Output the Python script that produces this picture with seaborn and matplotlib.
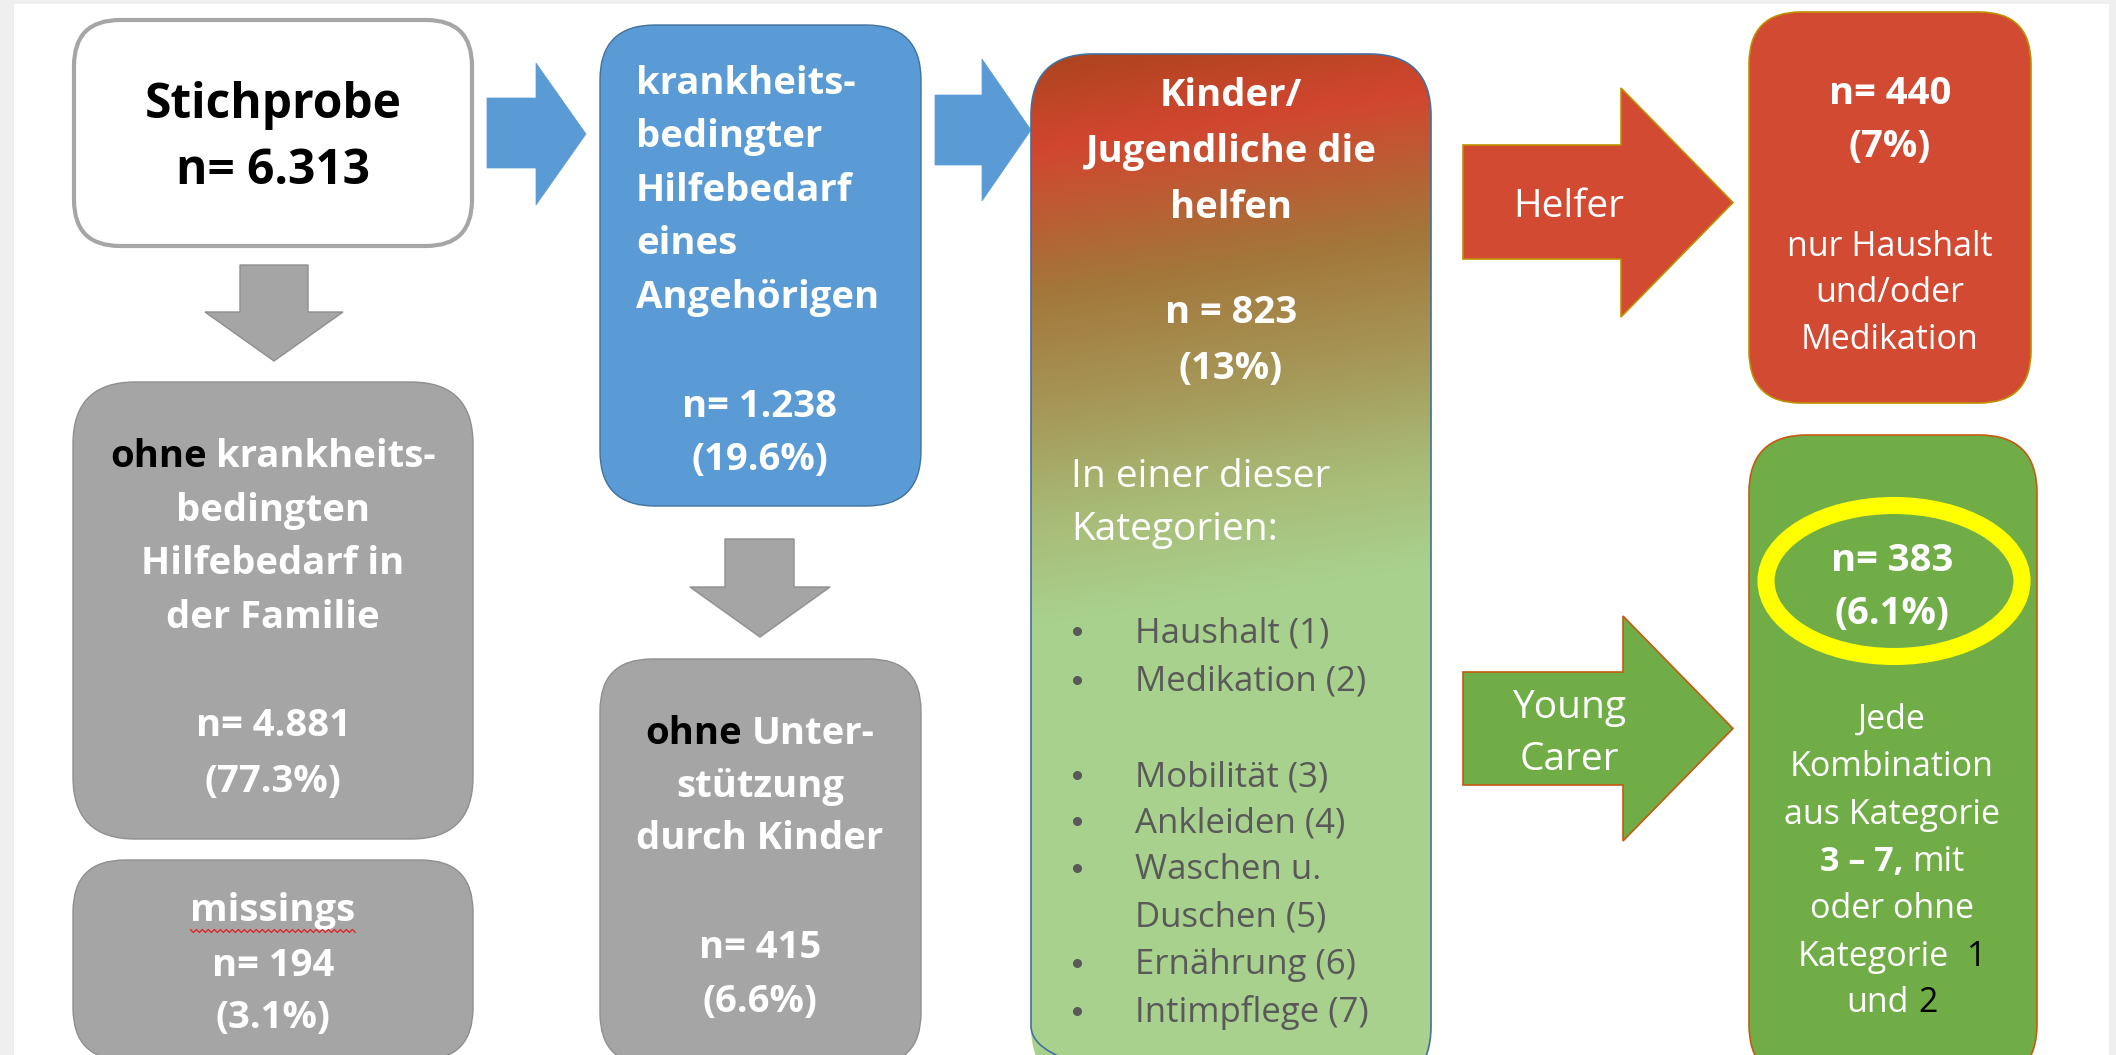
import numpy as np
import matplotlib
matplotlib.use("Agg")
import matplotlib.pyplot as plt
import matplotlib.colors as mcolors
from matplotlib.patches import FancyBboxPatch, Polygon, Ellipse, Rectangle
from matplotlib import font_manager
import seaborn as sns

# ---------------- data (texts / values of the flow chart) ----------------
sample_title = "Stichprobe"
sample_n = "n= 6.313"

no_need_head = ["ohne", "krankheits-"]
no_need_lines = ["bedingten", "Hilfebedarf in", "der Familie"]
no_need_n = "n= 4.881"
no_need_pct = "(77.3%)"

missing_label = "missings"
missing_n = "n= 194"
missing_pct = "(3.1%)"

need_lines = ["krankheits-", "bedingter", "Hilfebedarf", "eines", "Angehörigen"]
need_n = "n= 1.238"
need_pct = "(19.6%)"

nosupport_head = ["ohne", "Unter-"]
nosupport_lines = ["stützung", "durch Kinder"]
nosupport_n = "n= 415"
nosupport_pct = "(6.6%)"

helping_title = ["Kinder/", "Jugendliche die", "helfen"]
helping_n = "n = 823"
helping_pct = "(13%)"
helping_intro = ["In einer dieser", "Kategorien:"]
categories = ["Haushalt (1)", "Medikation (2)", "Mobilität (3)", "Ankleiden (4)",
              "Waschen u.", "Duschen (5)", "Ernährung (6)", "Intimpflege (7)"]
category_has_bullet = [True, True, True, True, True, False, True, True]

helper_arrow_label = ["Helfer"]
carer_arrow_label = ["Young", "Carer"]

helper_n = "n= 440"
helper_pct = "(7%)"
helper_desc = ["nur Haushalt", "und/oder", "Medikation"]

carer_n = "n= 383"
carer_pct = "(6.1%)"
carer_desc = ["Jede", "Kombination", "aus Kategorie"]
carer_range = ["3 – 7,", "mit"]
carer_desc2 = ["oder ohne"]
carer_cat1 = ["Kategorie", "1"]
carer_cat2 = ["und", "2"]

# ---------------- style ----------------
sns.set_theme(style="white")
avail = {f.name for f in font_manager.fontManager.ttflist}
FONT = "DejaVu Sans"
for cand in ["Open Sans", "Lato", "Noto Sans", "Liberation Sans"]:
    if cand in avail:
        FONT = cand
        break
plt.rcParams["font.family"] = [FONT, "DejaVu Sans"]

WHITE = "#ffffff"
BLACK = "#000000"
GRAY_FILL = "#a5a5a5"
GRAY_EDGE = "#8f8f8f"
BLUE_FILL = "#5b9bd5"
BLUE_EDGE = "#41719c"
RED_FILL = "#d24a31"
RED_EDGE = "#bf9000"
GREEN_FILL = "#70ad47"
GREEN_EDGE = "#c55a11"
BULLET_TXT = "#595959"
DY = 4  # baseline correction for text placement

W_PX, H_PX = 2116, 1055
fig = plt.figure(figsize=(W_PX / 100, H_PX / 100), dpi=100, facecolor="#efefef")
ax = fig.add_axes([0, 0, 1, 1])
ax.set_xlim(0, W_PX)
ax.set_ylim(H_PX, 0)
ax.axis("off")
renderer = fig.canvas.get_renderer()

# white slide area
ax.add_patch(Rectangle((14, 4), 2095, 1060, facecolor="white", edgecolor="none", zorder=0))


def rbox(x0, y0, x1, y1, r, fc, ec, lw, z=1):
    p = FancyBboxPatch((x0, y0), x1 - x0, y1 - y0,
                       boxstyle=f"round,pad=0,rounding_size={r}",
                       facecolor=fc, edgecolor=ec, linewidth=lw, zorder=z)
    ax.add_patch(p)
    return p


def right_arrow(x0, xh, xt, ys0, ys1, yh0, yh1, fc, ec, lw):
    yc = (yh0 + yh1) / 2
    pts = [(x0, ys0), (xh, ys0), (xh, yh0), (xt, yc), (xh, yh1), (xh, ys1), (x0, ys1)]
    ax.add_patch(Polygon(pts, closed=True, facecolor=fc, edgecolor=ec, linewidth=lw, zorder=2))


def down_arrow(xs0, xs1, xh0, xh1, y0, yh, yt, fc, ec, lw):
    xc = (xh0 + xh1) / 2
    pts = [(xs0, y0), (xs1, y0), (xs1, yh), (xh1, yh), (xc, yt), (xh0, yh), (xs0, yh)]
    ax.add_patch(Polygon(pts, closed=True, facecolor=fc, edgecolor=ec, linewidth=lw, zorder=2))


def txt(x, y, s, size, color=WHITE, weight="bold", ha="center"):
    return ax.text(x, y + DY, s, fontsize=size, color=color, fontweight=weight,
                   ha=ha, va="center", zorder=10)


def width_of(s, size, weight):
    t = ax.text(0, 0, s, fontsize=size, fontweight=weight)
    w = t.get_window_extent(renderer).width
    t.remove()
    return w


def rich(xc, y, parts, size, gap=1.0):
    """parts: list of (text, color, weight); joined with spaces, centred at xc."""
    widths = [width_of(p[0], size, p[2]) for p in parts]
    sp = width_of("n n", size, "normal") - width_of("nn", size, "normal")
    total = sum(widths) + sp * gap * (len(parts) - 1)
    x = xc - total / 2
    for (s, c, w), wd in zip(parts, widths):
        ax.text(x, y + DY, s, fontsize=size, color=c, fontweight=w, ha="left", va="center", zorder=10)
        x += wd + sp * gap


BOLD = 27.5
REG_BOX = 24.5

# ---------------- column 1 ----------------
rbox(74, 20, 472, 246, 46, "white", "#a6a6a6", 3.0)
txt(273, 101, sample_title, 34.5, BLACK)
txt(273, 168, sample_n, 34.5, BLACK)

down_arrow(240, 308, 205, 343, 265, 312, 361, GRAY_FILL, GRAY_EDGE, 1.0)

rbox(73, 382, 473, 839, 62, GRAY_FILL, GRAY_EDGE, 1.0)
rich(273, 453, [(no_need_head[0], BLACK, "bold"), (no_need_head[1], WHITE, "bold")], BOLD)
for i, s in enumerate(no_need_lines):
    txt(273, 507 + 53.5 * i, s, BOLD)
txt(273, 722, no_need_n, BOLD)
txt(273, 778, no_need_pct, BOLD)

rbox(73, 860, 473, 1060, 52, GRAY_FILL, GRAY_EDGE, 1.0)
mt = txt(273, 907, missing_label, BOLD)
txt(273, 962, missing_n, BOLD)
txt(273, 1014, missing_pct, BOLD)
# spell-check underline
bb = mt.get_window_extent(renderer)
inv = ax.transData.inverted()
(xa, ya), (xb, yb) = inv.transform([(bb.x0, bb.y0), (bb.x1, bb.y1)])
uy = ya + 1
zx = np.arange(xa, xb, 3.0)
zy = uy + np.where(np.arange(len(zx)) % 2 == 0, -1.5, 1.5)
ax.plot(zx, zy, color="#e02020", lw=0.9, zorder=11)

# ---------------- column 2 ----------------
right_arrow(487, 536, 586, 98, 168, 63, 205, BLUE_FILL, BLUE_FILL, 0.5)

rbox(600, 25, 921, 506, 55, BLUE_FILL, BLUE_EDGE, 1.0)
for i, s in enumerate(need_lines):
    txt(636, 80 + 53.5 * i, s, BOLD, ha="left")
txt(760, 403, need_n, BOLD)
txt(760, 456, need_pct, BOLD)

down_arrow(725, 794, 690, 830, 539, 587, 637, GRAY_FILL, GRAY_EDGE, 1.0)

rbox(600, 659, 921, 1065, 52, GRAY_FILL, GRAY_EDGE, 1.0)
rich(760, 730, [(nosupport_head[0], BLACK, "bold"), (nosupport_head[1], WHITE, "bold")], BOLD)
for i, s in enumerate(nosupport_lines):
    txt(760, 783 + 52 * i, s, BOLD)
txt(760, 944, nosupport_n, BOLD)
txt(760, 998, nosupport_pct, BOLD)

# ---------------- column 3 (gradient box) ----------------
right_arrow(935, 982, 1031, 95, 165, 59, 201, BLUE_FILL, BLUE_FILL, 0.5)

gx0, gy0, gx1, gy1 = 1031, 54, 1431, 1088
gp = rbox(gx0, gy0, gx1, gy1, 62, "none", BLUE_EDGE, 1.2, z=3)
xs = np.arange(gx0, gx1)
ys = np.arange(gy0, gy1)
X, Y = np.meshgrid(xs, ys)
T = Y + 0.15 * (X - gx0)
stop_t = [40, 150, 290, 420, 520, 625]
stop_c = ["#a5441c", "#d2462f", "#a3763a", "#a69a5a", "#a8bb76", "#a9d18e"]
rgb = np.array([mcolors.to_rgb(c) for c in stop_c])
img = np.stack([np.interp(T, stop_t, rgb[:, k]) for k in range(3)], axis=-1)
im = ax.imshow(img, extent=[gx0, gx1, gy1, gy0], origin="upper", aspect="auto",
               interpolation="bilinear", zorder=2)
im.set_clip_path(gp)
ax.set_xlim(0, W_PX)
ax.set_ylim(H_PX, 0)

gxc = (gx0 + gx1) / 2
for i, s in enumerate(helping_title):
    txt(gxc, 92 + 56 * i, s, BOLD)
txt(gxc, 309, helping_n, BOLD)
txt(gxc, 365, helping_pct, BOLD)
txt(1071, 473, helping_intro[0], 28, WHITE, "normal", ha="left")
txt(1071, 526, helping_intro[1], 28, WHITE, "normal", ha="left")
cat_y = [629, 678, 773, 819, 866, 913, 961, 1009]
for s, yy, b in zip(categories, cat_y, category_has_bullet):
    if b:
        ax.plot([1077], [yy - 2 + DY], marker="o", markersize=5.5, color=BULLET_TXT,
                linestyle="none", zorder=10)
    txt(1135, yy, s, 25, BULLET_TXT, "normal", ha="left")

# ---------------- arrows to the right ----------------
right_arrow(1463, 1621, 1733, 145, 259, 88, 317, RED_FILL, RED_EDGE, 1.2)
txt(1569, 203, helper_arrow_label[0], 28, WHITE, "normal")

right_arrow(1463, 1623, 1733, 672, 785, 616, 841, GREEN_FILL, GREEN_EDGE, 1.2)
txt(1569, 704, carer_arrow_label[0], 28, WHITE, "normal")
txt(1569, 756, carer_arrow_label[1], 28, WHITE, "normal")

# ---------------- column 4 ----------------
rbox(1749, 12, 2031, 403, 52, RED_FILL, RED_EDGE, 1.2)
rxc = 1890
txt(rxc, 90, helper_n, BOLD)
txt(rxc, 143, helper_pct, BOLD)
for i, s in enumerate(helper_desc):
    txt(rxc, 243 + 46.5 * i, s, REG_BOX, WHITE, "normal")

rbox(1749, 435, 2037, 1082, 58, GREEN_FILL, GREEN_EDGE, 1.2)
ax.add_patch(Ellipse((1894, 581), 256, 151, facecolor="none", edgecolor="#ffff00",
                     linewidth=12.3, zorder=4))
cxc = 1892
txt(cxc, 557, carer_n, BOLD)
txt(cxc, 610, carer_pct, BOLD)
for i, s in enumerate(carer_desc):
    txt(cxc, 716 + 47.5 * i, s, REG_BOX, WHITE, "normal")
rich(cxc, 858, [(carer_range[0], WHITE, "bold"), (carer_range[1], WHITE, "normal")], REG_BOX)
txt(cxc, 905, carer_desc2[0], REG_BOX, WHITE, "normal")
rich(cxc, 953, [(carer_cat1[0], WHITE, "normal"), (carer_cat1[1], BLACK, "normal")], REG_BOX, gap=2.0)
rich(cxc, 999, [(carer_cat2[0], WHITE, "normal"), (carer_cat2[1], BLACK, "normal")], REG_BOX)

fig.savefig("out.png", dpi=100, facecolor=fig.get_facecolor())
